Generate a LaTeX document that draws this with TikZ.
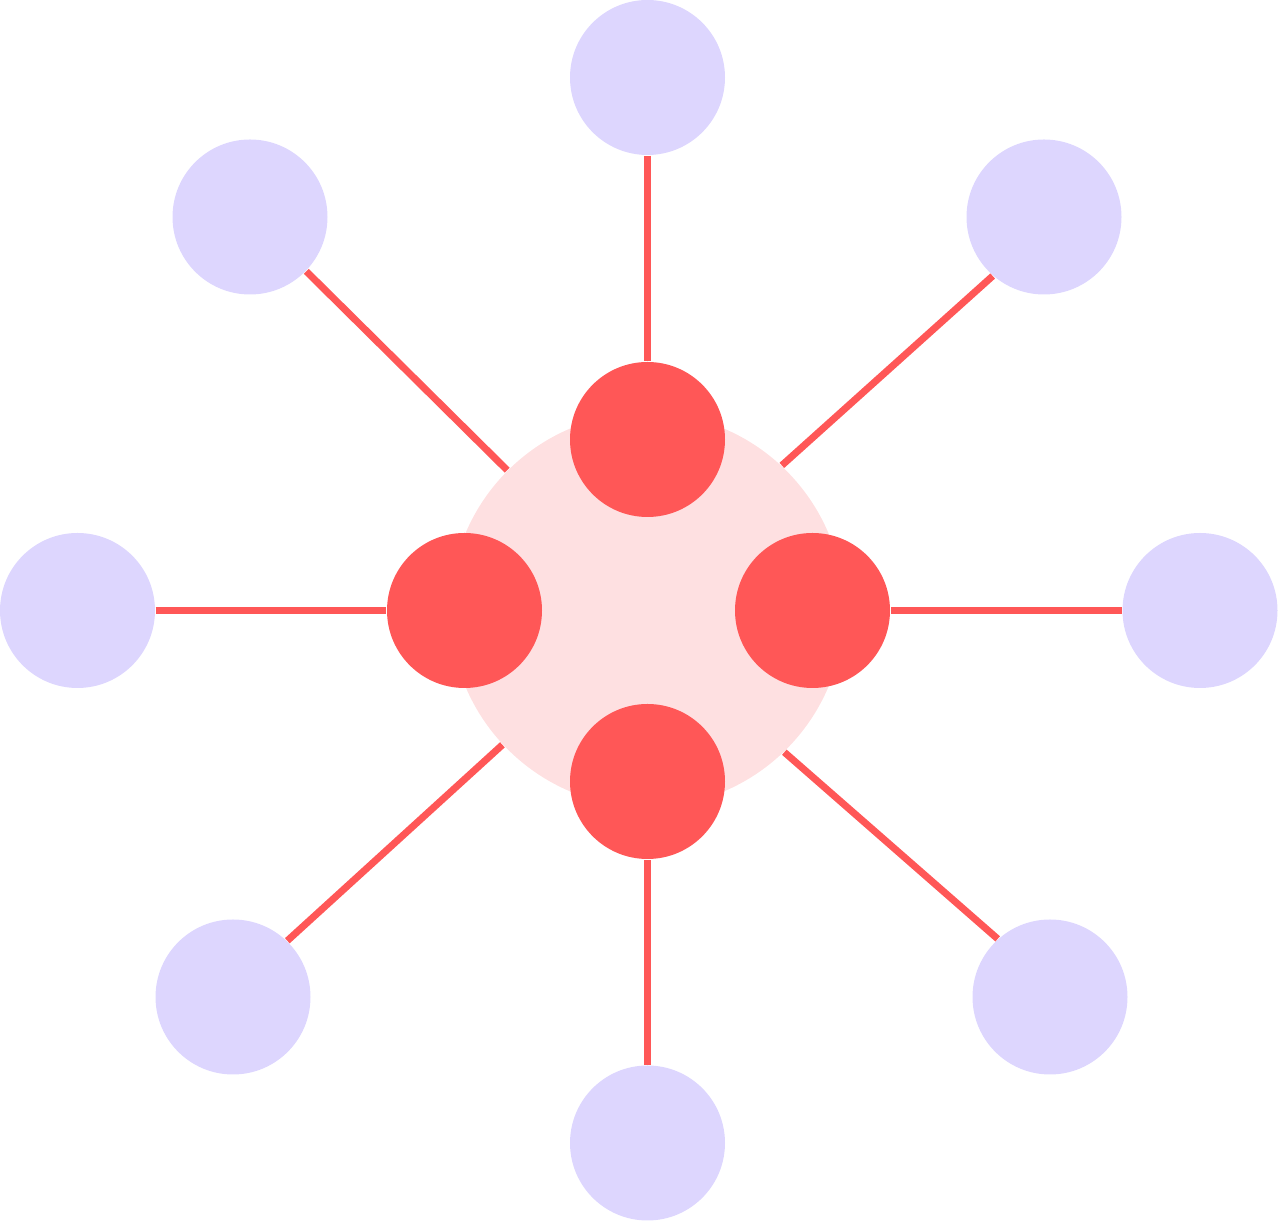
\documentclass[tikz,border=0pt]{standalone}
\usepackage{tikz}

\definecolor{corered}{HTML}{FF5757}
\definecolor{hubpink}{HTML}{FEE0E1}
\definecolor{leaflilac}{HTML}{DDD6FE}

\begin{document}
\begin{tikzpicture}[
    hub/.style={circle, fill=hubpink, inner sep=0pt, minimum size=3.94cm},
    core/.style={circle, fill=corered, inner sep=0pt, minimum size=1.55cm},
    leaf/.style={circle, fill=leaflilac, inner sep=0pt, minimum size=1.55cm},
    spoke/.style={draw=corered, line width=0.07cm}
]
    \useasboundingbox (0,0) rectangle (12.78,-12.22);

    % Hub
    \node[hub] (hub) at (6.47,-6.10) {};

    % Core nodes
    \node[core] (ctop) at (6.475,-4.395) {};
    \node[core] (cleft) at (4.645,-6.105) {};
    \node[core] (cright) at (8.125,-6.105) {};
    \node[core] (cbottom) at (6.475,-7.815) {};

    % Leaves
    \node[leaf] (ltop) at (6.475,-0.775) {};
    \node[leaf] (ltopleft) at (2.50,-2.17) {};
    \node[leaf] (ltopright) at (10.44,-2.17) {};
    \node[leaf] (lleft) at (0.775,-6.105) {};
    \node[leaf] (lright) at (12.0,-6.105) {};
    \node[leaf] (lbotleft) at (2.33,-9.97) {};
    \node[leaf] (lbottom) at (6.475,-11.43) {};
    \node[leaf] (lbotright) at (10.50,-9.97) {};

    % Spokes
    \draw[spoke] (ltop) -- (ctop);
    \draw[spoke] (lleft) -- (cleft);
    \draw[spoke] (lright) -- (cright);
    \draw[spoke] (lbottom) -- (cbottom);
    \draw[spoke] (ltopleft.-44) -- (hub.135.4);
    \draw[spoke] (ltopright.229.6) -- (hub.47.9);
    \draw[spoke] (lbotleft.46) -- (hub.223);
    \draw[spoke] (lbotright.132.9) -- (hub.-46.4);

\end{tikzpicture}
\end{document}
